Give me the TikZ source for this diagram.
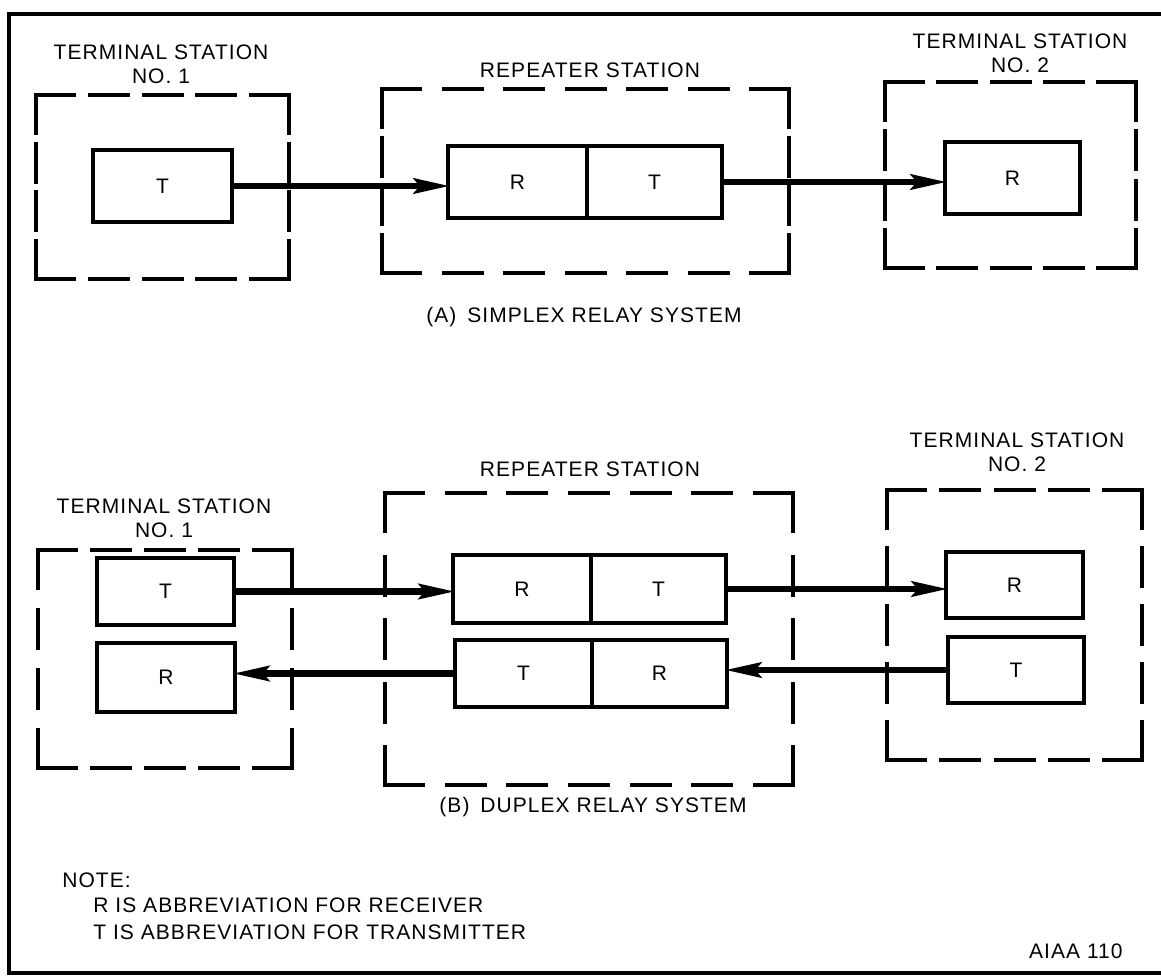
\documentclass[tikz,border=0pt]{standalone}
\usepackage{fontspec}
\setmainfont{Liberation Sans}[LetterSpace=5]
\usetikzlibrary{arrows.meta}
\tikzset{
  box/.style={draw, line width=2pt, inner sep=0pt, outer sep=0pt, font=\fontsize{10.5}{12}\selectfont},
  grp/.style={draw=none, inner sep=0pt, outer sep=0pt},
  dsh/.style={line width=2pt, line cap=rect},
  conn/.style={line width=3.3pt, -{Stealth[length=18pt,width=7.5pt,inset=3pt]}, shorten >=-1pt},
  lbl/.style={align=center, inner sep=0pt, font=\fontsize{10.5}{11.8}\selectfont},
  note/.style={inner sep=0pt, anchor=west, font=\fontsize{10.5}{12}\selectfont},
  frame/.style={line width=2.2pt}
}
% one dashed side of a group frame, with dashes at both corners
\newcommand{\dside}[3]{%
  \pgfpointdiff{\pgfpointanchor{#1}{#2}}{\pgfpointanchor{#1}{#3}}%
  \pgfgetlastxy{\dsx}{\dsy}%
  \pgfmathsetmacro{\dsL}{veclen(\dsx,\dsy)}%
  \pgfmathsetmacro{\dsN}{max(2,round((\dsL+10)/29))}%
  \pgfmathsetmacro{\dsG}{(\dsL-\dsN*19)/(\dsN-1)}%
  \draw[dsh, dash pattern=on 19pt off \dsG pt] (#1.#2) -- (#1.#3);}
\newcommand{\grpsides}[1]{%
  \dside{#1}{north west}{north east}%
  \dside{#1}{north east}{south east}%
  \dside{#1}{south east}{south west}%
  \dside{#1}{south west}{north west}}
\begin{document}
\begin{tikzpicture}[x=0.5pt,y=-0.5pt]
\useasboundingbox (0,0) rectangle (1161,978);
% frame
\coordinate (ftr) at (1161,14);
\coordinate (fbr) at (1161,973);
\coordinate (fl) at (9,0);
\draw[frame] (ftr) -- (ftr -| fl) -- (fbr -| fl) -- (fbr);

% ---------- (A) simplex ----------
\node[grp, minimum width=126.5pt, minimum height=92pt] (ga1) at (162.5,187) {};
\node[grp, minimum width=203.5pt, minimum height=92pt] (ga2) at (585.5,181) {};
\node[grp, minimum width=125.5pt, minimum height=93pt] (ga3) at (1010.5,175) {};
\grpsides{ga1}\grpsides{ga2}\grpsides{ga3}

\node[lbl] (la1) at (161,64) {TERMINAL STATION\\NO. 1};
\node[lbl] (la2) at (590,70) {REPEATER STATION};
\node[lbl] (la3) at (1020,53) {TERMINAL STATION\\NO. 2};

\node[box, minimum width=69.5pt, minimum height=36pt] (a1t) at (162.5,186) {T};
\node[box, minimum width=69.5pt, minimum height=36pt] (a2r) at (517.5,182) {R};
\node[box, minimum width=67.5pt, minimum height=36pt] (a2t) at (654.5,182) {T};
\node[box, minimum width=67.5pt, minimum height=36pt] (a3r) at (1012.5,178) {R};

\draw[conn] (a1t.east) -- (a1t.east -| a2r.west);
\draw[conn] (a2t.east) -- (a2t.east -| a3r.west);

\node[lbl] (capA) at (584,317) {(A)\kern2pt\ SIMPLEX RELAY SYSTEM};

% ---------- (B) duplex ----------
\node[grp, minimum width=127pt, minimum height=109pt] (gb1) at (165,659) {};
\node[grp, minimum width=204pt, minimum height=146pt] (gb2) at (589,639) {};
\node[grp, minimum width=127.5pt, minimum height=135pt] (gb3) at (1014.5,625) {};
\grpsides{gb1}\grpsides{gb2}\grpsides{gb3}

\node[lbl] (lb1) at (164,518) {TERMINAL STATION\\NO. 1};
\node[lbl] (lb2) at (590,469) {REPEATER STATION};
\node[lbl] (lb3) at (1017,452) {TERMINAL STATION\\NO. 2};

\node[box, minimum width=68.5pt, minimum height=33.5pt] (b1t) at (165.5,591.5) {T};
\node[box, minimum width=69pt, minimum height=34.5pt] (b1r) at (166,677.5) {R};
\node[box, minimum width=69pt, minimum height=34pt] (b2r) at (522,589) {R};
\node[box, minimum width=67.5pt, minimum height=34pt] (b2t) at (658.5,589) {T};
\node[box, minimum width=68.5pt, minimum height=33.5pt] (b2t2) at (523.5,673.5) {T};
\node[box, minimum width=67.5pt, minimum height=33.5pt] (b2r2) at (659.5,673.5) {R};
\node[box, minimum width=68.5pt, minimum height=33pt] (b3r) at (1014.5,585) {R};
\node[box, minimum width=68pt, minimum height=33pt] (b3t) at (1016,670) {T};

\draw[conn] (b1t.east) -- (b1t.east -| b2r.west);
\draw[conn] (b2t.east) -- (b2t.east -| b3r.west);
\draw[conn] (b3t.west) -- (b3t.west -| b2r2.east);
\draw[conn] (b2t2.west) -- (b2t2.west -| b1r.east);

\node[lbl] (capB) at (593,807) {(B)\kern2pt\ DUPLEX RELAY SYSTEM};

% ---------- note ----------
\node[note] (n0) at (62,880) {NOTE:};
\node[note] (n1) at (93,905) {R IS ABBREVIATION FOR RECEIVER};
\node[note] (n2) at (93,932) {T IS ABBREVIATION FOR TRANSMITTER};
\node[note, anchor=east] (aiaa) at (1123,951) {AIAA 110};
\end{tikzpicture}
\end{document}
